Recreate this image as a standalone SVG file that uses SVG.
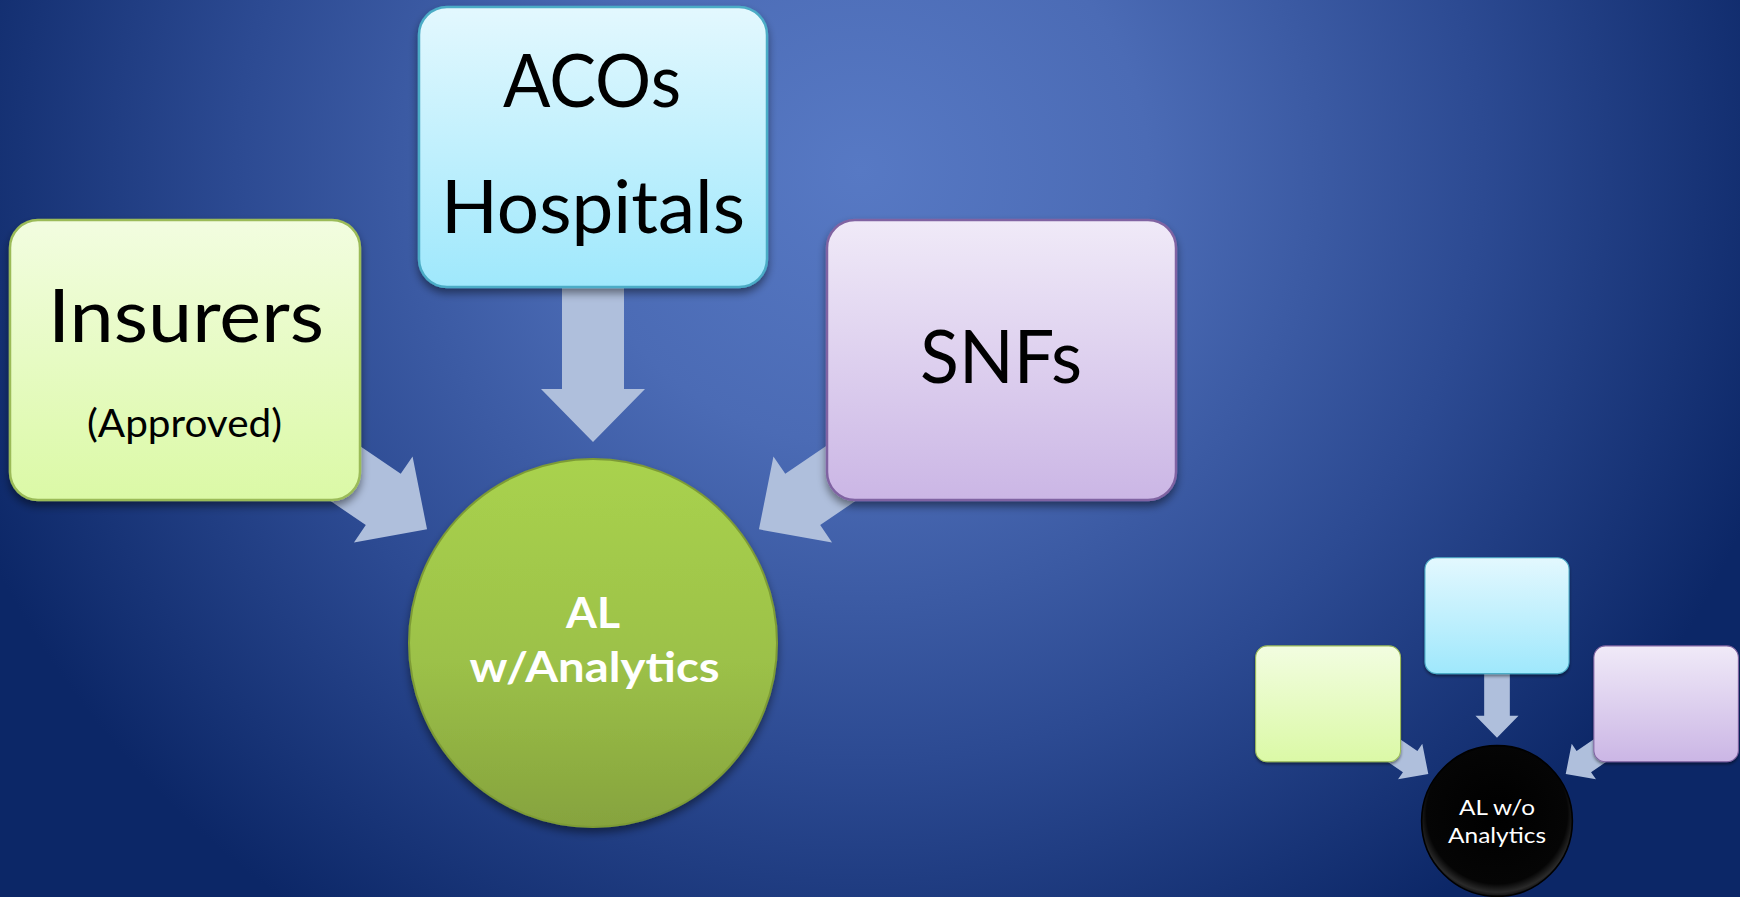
<svg xmlns="http://www.w3.org/2000/svg" width="1740" height="897" viewBox="0 0 1740 897">
  <defs>
    <radialGradient id="bg" gradientUnits="userSpaceOnUse" cx="860" cy="170" r="960" gradientTransform="translate(860,170) scale(1,0.95) translate(-860,-170)">
      <stop offset="0" stop-color="#5779c4"/>
      <stop offset="0.3" stop-color="#4b6bb5"/>
      <stop offset="0.65" stop-color="#2c4a92"/>
      <stop offset="1" stop-color="#0c2767"/>
    </radialGradient>
    <linearGradient id="gGreen" x1="0" y1="0" x2="0" y2="1">
      <stop offset="0" stop-color="#f2fde0"/>
      <stop offset="1" stop-color="#dbf9a6"/>
    </linearGradient>
    <linearGradient id="gCyan" x1="0" y1="0" x2="0" y2="1">
      <stop offset="0" stop-color="#e3f8fe"/>
      <stop offset="1" stop-color="#9fe8fc"/>
    </linearGradient>
    <linearGradient id="gPurple" x1="0" y1="0" x2="0" y2="1">
      <stop offset="0" stop-color="#f0eaf8"/>
      <stop offset="1" stop-color="#cbb6e5"/>
    </linearGradient>
    <linearGradient id="gCircle" x1="0" y1="0" x2="0" y2="1">
      <stop offset="0" stop-color="#a9d24e"/>
      <stop offset="0.55" stop-color="#9cc148"/>
      <stop offset="1" stop-color="#86a33e"/>
    </linearGradient>
    <radialGradient id="gBlack" cx="0.5" cy="0.45" r="0.55">
      <stop offset="0" stop-color="#000000"/>
      <stop offset="0.85" stop-color="#050505"/>
      <stop offset="0.95" stop-color="#2a2a2a"/>
      <stop offset="1" stop-color="#111111"/>
    </radialGradient>
    <filter id="shadow" x="-10%" y="-10%" width="120%" height="125%">
      <feDropShadow dx="0" dy="5" stdDeviation="4" flood-color="#000000" flood-opacity="0.45"/>
    </filter>
    <path id="arrow" d="M0,-31 H102 V-52 L155,0 L102,52 V31 H0 Z"/>
  </defs>
  <style>
    .arrow { fill: #afbfdc; }
    .box-green { fill: url(#gGreen); stroke: #9bbb59; stroke-width: 2.5; }
    .box-cyan { fill: url(#gCyan); stroke: #4bacc6; stroke-width: 2.5; }
    .box-purple { fill: url(#gPurple); stroke: #8064a2; stroke-width: 2.5; }
    .big { font-family: Lato, "Open Sans", sans-serif; font-size: 73px; fill: #000000; text-anchor: middle; }
    .sub { font-family: Lato, "Open Sans", sans-serif; font-size: 38px; fill: #000000; text-anchor: middle; }
    .hub { font-family: Lato, "Open Sans", sans-serif; font-size: 42px; font-weight: bold; fill: #ffffff; text-anchor: middle; }
    .hub-small { font-family: Lato, "Open Sans", sans-serif; font-size: 22px; fill: #ffffff; text-anchor: middle; }
  </style>

  <rect x="0" y="0" width="1740" height="897" fill="url(#bg)"/>

  <!-- Main diagram -->
  <g id="connectors">
    <use href="#arrow" class="arrow" transform="translate(593,287) rotate(90)"/>
    <use href="#arrow" class="arrow" transform="translate(299,442) rotate(34.3)"/>
    <use href="#arrow" class="arrow" transform="translate(887,442) rotate(145.7)"/>
  </g>

  <g id="node-insurers">
    <rect x="10" y="220" width="350" height="280" rx="28" ry="28" class="box-green" filter="url(#shadow)"/>
    <text x="186" y="342" class="big" font-size="75" textLength="276" lengthAdjust="spacingAndGlyphs">Insurers</text>
    <text x="184.5" y="437" class="sub" textLength="195" lengthAdjust="spacingAndGlyphs">(Approved)</text>
  </g>

  <g id="node-acos">
    <rect x="419" y="7" width="348" height="280" rx="28" ry="28" class="box-cyan" filter="url(#shadow)"/>
    <text x="592" y="107" class="big" textLength="178" lengthAdjust="spacingAndGlyphs">ACOs</text>
    <text x="593" y="233" class="big" textLength="304" lengthAdjust="spacingAndGlyphs">Hospitals</text>
  </g>

  <g id="node-snfs">
    <rect x="827" y="220" width="349" height="280" rx="28" ry="28" class="box-purple" filter="url(#shadow)"/>
    <text x="1001" y="383" class="big" textLength="162" lengthAdjust="spacingAndGlyphs">SNFs</text>
  </g>

  <g id="node-al-analytics">
    <circle cx="593" cy="643" r="184" fill="url(#gCircle)" stroke="#7d9b36" stroke-width="2" filter="url(#shadow)"/>
    <text x="593" y="628" class="hub" textLength="54" lengthAdjust="spacingAndGlyphs">AL</text>
    <text x="594.5" y="682" class="hub" textLength="250" lengthAdjust="spacingAndGlyphs">w/Analytics</text>
  </g>

  <!-- Small diagram -->
  <g id="small-diagram">
    <g transform="translate(1497,821) scale(0.414) translate(-593,-643)">
      <g id="small-connectors">
        <use href="#arrow" class="arrow" transform="translate(593,287) rotate(90)"/>
        <use href="#arrow" class="arrow" transform="translate(299,442) rotate(34.3)"/>
        <use href="#arrow" class="arrow" transform="translate(887,442) rotate(145.7)"/>
      </g>
      <g id="small-node-green">
        <rect x="10" y="220" width="350" height="280" rx="28" ry="28" class="box-green" stroke-width="5" filter="url(#shadow)"/>
      </g>
      <g id="small-node-cyan">
        <rect x="419" y="7" width="348" height="280" rx="28" ry="28" class="box-cyan" stroke-width="5" filter="url(#shadow)"/>
      </g>
      <g id="small-node-purple">
        <rect x="827" y="220" width="349" height="280" rx="28" ry="28" class="box-purple" stroke-width="5" filter="url(#shadow)"/>
      </g>
      <g id="small-node-black">
        <circle cx="593" cy="643" r="182" fill="url(#gBlack)" stroke="#000000" stroke-width="4"/>
      </g>
    </g>
    <text x="1497" y="815" class="hub-small" textLength="76" lengthAdjust="spacingAndGlyphs">AL w/o</text>
    <text x="1497" y="843" class="hub-small" textLength="98" lengthAdjust="spacingAndGlyphs">Analytics</text>
  </g>
</svg>
